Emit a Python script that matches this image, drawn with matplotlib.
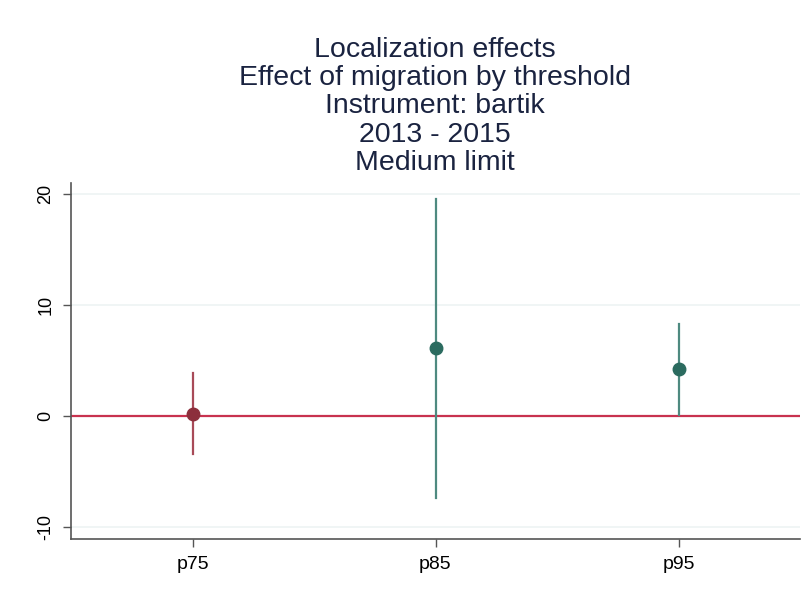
import matplotlib.pyplot as plt
import numpy as np

plt.rcParams['font.family'] = ['Liberation Sans', 'DejaVu Sans']

labels = ['p75', 'p85', 'p95']
coef = [0.2, 6.1, 4.2]
ci_low = [-3.4, -7.4, 0.05]
ci_high = [3.9, 19.6, 8.3]
sig = [False, True, True]

title_lines = ['Localization effects', 'Effect of migration by threshold',
               'Instrument: bartik', '2013 - 2015', 'Medium limit']

fig = plt.figure(figsize=(8.06, 5.96), dpi=100)
ax = fig.add_axes([71 / 806, 1 - 539 / 596, (800 - 71) / 806, (539 - 183) / 596])

x = np.arange(1, len(labels) + 1)

ax.axhline(0, color='#c8324f', lw=1.6, zorder=2)

for xi, c, lo, hi, s in zip(x, coef, ci_low, ci_high, sig):
    line_col = '#4e8a80' if s else '#a84a58'
    dot_col = '#2b6b5f' if s else '#8c2f3c'
    ax.plot([xi, xi], [lo, hi], color=line_col, lw=1.6, zorder=3)
    ax.plot(xi, c, 'o', color=dot_col, ms=9, zorder=4)

ax.set_xlim(0.5, 3.5)
ax.set_ylim(-11.1, 21)
ax.set_xticks(x)
ax.set_xticklabels(labels, fontsize=14)
ax.set_yticks([-10, 0, 10, 20])
ax.set_yticklabels(['-10', '0', '10', '20'], rotation=90, va='center', fontsize=13)
ax.grid(axis='y', color='#eef3f3', lw=1.2, zorder=0)
ax.set_axisbelow(True)

for side in ['top', 'right']:
    ax.spines[side].set_visible(False)
for side in ['left', 'bottom']:
    ax.spines[side].set_color('#555555')
    ax.spines[side].set_linewidth(1.2)
ax.tick_params(colors='#555555', labelcolor='black', length=6, width=1, pad=6)

fig.text(435 / 806, 1 - 37 / 596, '\n'.join(title_lines), ha='center', va='top',
         fontsize=20.5, color='#1a2340', linespacing=1.11)

fig.savefig('out.png', dpi=100)
